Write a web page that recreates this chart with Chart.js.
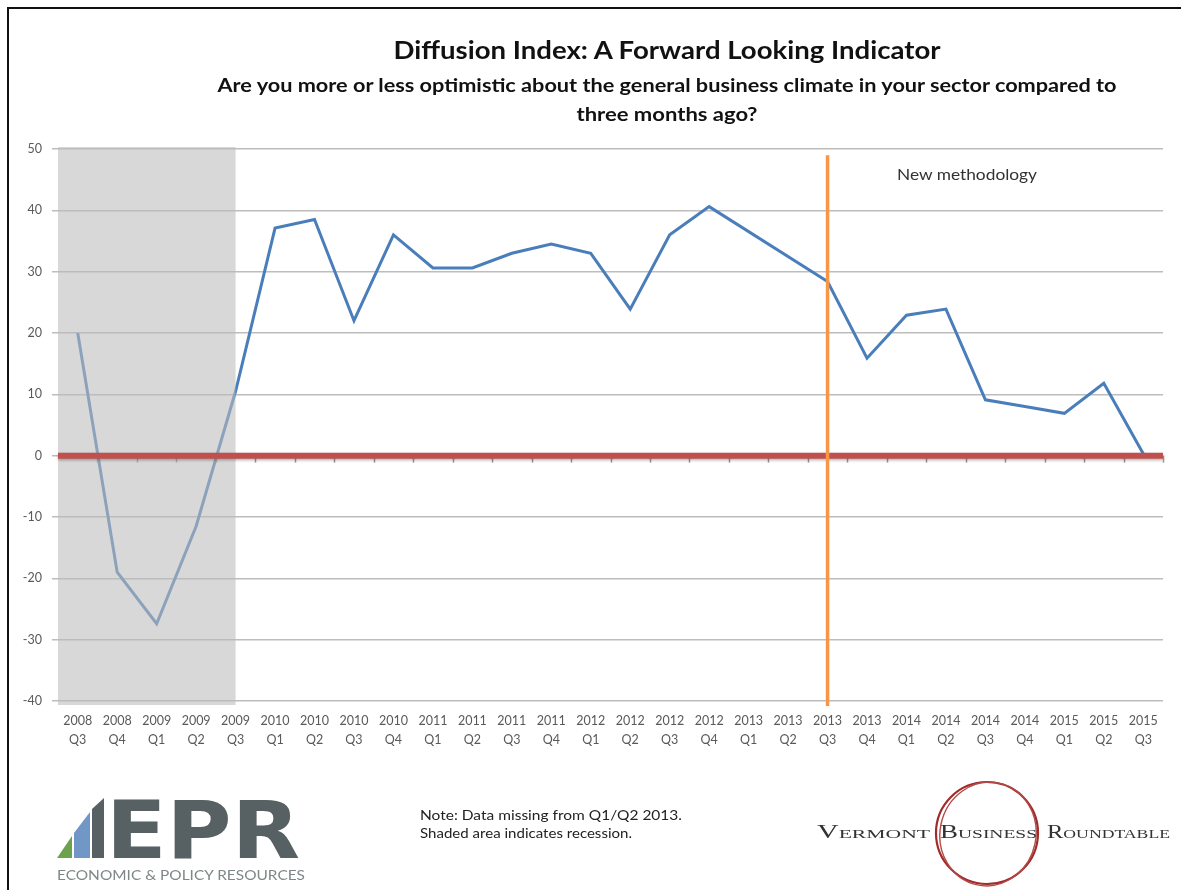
<!DOCTYPE html>
<html>
<head>
<meta charset="utf-8">
<script src="https://cdn.jsdelivr.net/npm/chart.js@4.4.1/dist/chart.umd.min.js"></script>
<style>
  body { margin: 0; background: #fff; }
  #wrap { position: relative; width: 1181px; height: 890px; overflow: hidden; background: #fff; }
  #frame { position: absolute; left: 7px; top: 7px; width: 1200px; height: 900px;
           border-left: 2px solid #111; border-top: 2px solid #111; }
  canvas { position: absolute; left: 0; top: 0; }
  svg { position: absolute; left: 0; top: 0; pointer-events: none; }
</style>
</head>
<body>
<div id="wrap">
  <div id="frame"></div>
  <canvas id="chart" width="1181" height="890"></canvas>
  <svg width="1181" height="890">
    <!-- titles -->
    <text x="667" y="59" text-anchor="middle" font-family="Lato" font-weight="bold" font-size="24"
          fill="#111" textLength="547" lengthAdjust="spacingAndGlyphs">Diffusion Index: A Forward Looking Indicator</text>
    <text x="667" y="92" text-anchor="middle" font-family="Lato" font-weight="bold" font-size="19"
          fill="#111" textLength="899" lengthAdjust="spacingAndGlyphs">Are you more or less optimistic about the general business climate in your sector compared to</text>
    <text x="667" y="121" text-anchor="middle" font-family="Lato" font-weight="bold" font-size="19"
          fill="#111" textLength="181" lengthAdjust="spacingAndGlyphs">three months ago?</text>

    <text x="897" y="180" font-family="Lato" font-size="15" fill="#333"
          textLength="140" lengthAdjust="spacingAndGlyphs">New methodology</text>

    <!-- EPR logo -->
    <polygon points="57,858 72,858 72,836" fill="#6da24c"/>
    <polygon points="74,858 90,858 90,812 74,833" fill="#7097c6"/>
    <polygon points="92,858 104,858 104,798 92,809" fill="#576063"/>
    <text x="106" y="858" font-family="DejaVu Sans" font-weight="bold" font-size="80" fill="#576063"
          textLength="194" lengthAdjust="spacingAndGlyphs">EPR</text>
    <text x="57" y="880" font-family="Lato" font-size="14" fill="#7f8687"
          textLength="248" lengthAdjust="spacingAndGlyphs">ECONOMIC &amp; POLICY RESOURCES</text>

    <!-- note -->
    <text x="420" y="820" font-family="Lato" font-size="13" fill="#222"
          textLength="262" lengthAdjust="spacingAndGlyphs">Note:  Data missing from  Q1/Q2 2013.</text>
    <text x="420" y="838" font-family="Lato" font-size="13" fill="#222"
          textLength="212" lengthAdjust="spacingAndGlyphs">Shaded area indicates  recession.</text>

    <!-- Vermont Business Roundtable logo -->
    <ellipse cx="987" cy="833" rx="51" ry="51" fill="none" stroke="#a02c2a" stroke-width="2.2"/>
    <ellipse cx="988" cy="834" rx="48" ry="52" fill="none" stroke="#b24a48" stroke-width="1.4" transform="rotate(12 988 834)"/>
    <text x="817" y="838" font-family="Liberation Serif" font-size="18" fill="#333" style="font-variant: small-caps"
          textLength="113" lengthAdjust="spacingAndGlyphs">Vermont</text>
    <text x="940" y="838" font-family="Liberation Serif" font-size="18" fill="#333" style="font-variant: small-caps"
          textLength="97" lengthAdjust="spacingAndGlyphs">Business</text>
    <text x="1047" y="838" font-family="Liberation Serif" font-size="18" fill="#333" style="font-variant: small-caps"
          textLength="123" lengthAdjust="spacingAndGlyphs">Roundtable</text>
  </svg>
</div>
<script>
// quarters on the x axis (2009 Q4 is not in the survey)
const categories = [
  '2008 Q3', '2008 Q4', '2009 Q1', '2009 Q2', '2009 Q3',
  '2010 Q1', '2010 Q2', '2010 Q3', '2010 Q4',
  '2011 Q1', '2011 Q2', '2011 Q3', '2011 Q4',
  '2012 Q1', '2012 Q2', '2012 Q3', '2012 Q4',
  '2013 Q1', '2013 Q2', '2013 Q3', '2013 Q4',
  '2014 Q1', '2014 Q2', '2014 Q3', '2014 Q4',
  '2015 Q1', '2015 Q2', '2015 Q3'
];

// diffusion index, Q1/Q2 2013 missing
const diffusion = [
  20, -19, -27.4, -11.5, 10.5,
  37.1, 38.5, 22, 36,
  30.6, 30.6, 33, 34.5,
  33, 23.9, 36, 40.6,
  null, null, 28.4, 15.9,
  22.9, 23.9, 9.1, 8,
  6.9, 11.8, 0.3
];

const yTicks = { min: -40, max: 50, step: 10 };
const recessionEnd = '2009 Q3';
const methodologyChange = '2013 Q3';

// draw shading, zero line, tick marks and the methodology line
const overlays = {
  id: 'overlays',
  afterDatasetsDraw(chart) {
    const ctx = chart.ctx;
    const area = chart.chartArea;
    const x = chart.scales.x;
    const y = chart.scales.y;
    const y0 = y.getPixelForValue(0);
    const step = x.getPixelForValue(1) - x.getPixelForValue(0);
    ctx.save();

    // tick marks hanging under the zero axis
    ctx.strokeStyle = '#9a9a9a';
    ctx.lineWidth = 1.5;
    for (let i = 0; i < categories.length; i++) {
      const tx = Math.round(x.getPixelForValue(i) + step / 2) + 0.5;
      ctx.beginPath();
      ctx.moveTo(tx, y0);
      ctx.lineTo(tx, y0 + 7);
      ctx.stroke();
    }

    // recession shading
    const rx = x.getPixelForValue(categories.indexOf(recessionEnd));
    ctx.fillStyle = 'rgba(188,188,188,0.58)';
    ctx.fillRect(area.left, area.top - 2, rx - area.left, area.bottom - area.top + 6);

    // zero line
    ctx.shadowColor = 'rgba(0,0,0,0.3)';
    ctx.shadowBlur = 3;
    ctx.shadowOffsetY = 1.5;
    ctx.strokeStyle = '#c0504d';
    ctx.lineWidth = 6;
    ctx.beginPath();
    ctx.moveTo(area.left, y0);
    ctx.lineTo(area.right, y0);
    ctx.stroke();

    // new methodology marker
    ctx.shadowColor = 'transparent';
    const mx = x.getPixelForValue(categories.indexOf(methodologyChange));
    ctx.strokeStyle = '#f79646';
    ctx.lineWidth = 3.5;
    ctx.beginPath();
    ctx.moveTo(mx, y.getPixelForValue(49));
    ctx.lineTo(mx, area.bottom + 5);
    ctx.stroke();
    ctx.restore();
  }
};

const ctx = document.getElementById('chart').getContext('2d');
new Chart(ctx, {
  type: 'line',
  data: {
    labels: categories.map(c => c.split(' ')),
    datasets: [{
      data: diffusion,
      borderColor: '#4a7ebb',
      borderWidth: 3,
      pointRadius: 0,
      spanGaps: true,
      tension: 0
    }]
  },
  options: {
    responsive: false,
    animation: false,
    layout: { padding: { left: 0, top: 149, right: 18, bottom: 129 } },
    plugins: {
      legend: { display: false },
      tooltip: { enabled: false }
    },
    scales: {
      x: {
        offset: true,
        grid: { display: true, drawOnChartArea: false, drawTicks: false },
        border: { display: false },
        ticks: {
          autoSkip: false,
          maxRotation: 0,
          padding: 11,
          color: '#595959',
          font: { family: 'Lato', size: 12.5, lineHeight: 1.5 }
        },
        afterFit(scale) { scale.height = 60; }
      },
      y: {
        min: yTicks.min,
        max: yTicks.max,
        grid: { color: '#bdbdbd', lineWidth: 1.5, tickLength: 6 },
        border: { display: false },
        ticks: {
          stepSize: yTicks.step,
          padding: 10,
          color: '#595959',
          font: { family: 'Lato', size: 12.5 }
        },
        afterFit(scale) { scale.width = 58; }
      }
    }
  },
  plugins: [overlays]
});
</script>
</body>
</html>
